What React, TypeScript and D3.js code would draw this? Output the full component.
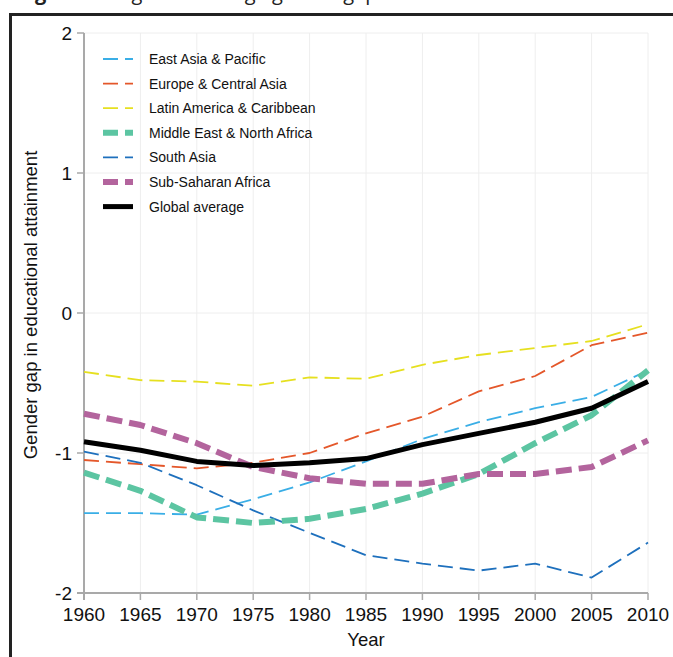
import React from 'react';
import * as d3 from 'd3';

const years = [1960, 1965, 1970, 1975, 1980, 1985, 1990, 1995, 2000, 2005, 2010];
const yTicks = [2, 1, 0, -1, -2];

const regionNames = [
  'East Asia & Pacific',
  'Europe & Central Asia',
  'Latin America & Caribbean',
  'Middle East & North Africa',
  'South Asia',
  'Sub-Saharan Africa',
  'Global average',
];

const eastAsia = [-1.43, -1.43, -1.44, -1.33, -1.21, -1.06, -0.9, -0.78, -0.68, -0.6, -0.41];
const europe = [-1.05, -1.08, -1.11, -1.07, -1.0, -0.86, -0.74, -0.56, -0.45, -0.23, -0.14];
const latinAmerica = [-0.42, -0.48, -0.49, -0.52, -0.46, -0.47, -0.37, -0.3, -0.25, -0.2, -0.08];
const mena = [-1.14, -1.27, -1.46, -1.5, -1.47, -1.4, -1.29, -1.15, -0.93, -0.73, -0.41];
const southAsia = [-0.99, -1.07, -1.23, -1.41, -1.57, -1.73, -1.79, -1.84, -1.79, -1.89, -1.64];
const subSaharan = [-0.72, -0.8, -0.93, -1.1, -1.18, -1.22, -1.22, -1.15, -1.15, -1.1, -0.91];
const globalAvg = [-0.92, -0.98, -1.06, -1.09, -1.07, -1.04, -0.94, -0.86, -0.78, -0.68, -0.49];

const seriesValues = [eastAsia, europe, latinAmerica, mena, southAsia, subSaharan, globalAvg];

// stroke style per series: colour, width, dash
const styles = [
  { color: '#3aaee6', width: 1.8, dash: '15,7' },
  { color: '#e4572a', width: 1.8, dash: '15,7' },
  { color: '#e6e020', width: 1.8, dash: '15,7' },
  { color: '#5cc5a2', width: 6, dash: '16,7' },
  { color: '#1e70bd', width: 1.8, dash: '15,7' },
  { color: '#b3649d', width: 6, dash: '16,7' },
  { color: '#000000', width: 5, dash: null as string | null },
];

const W = 673;
const H = 657;
const margin = { top: 33, right: 25, bottom: 64, left: 84 };

export default function App() {
  const x = d3.scaleLinear().domain([1960, 2010]).range([margin.left, W - margin.right]);
  const y = d3.scaleLinear().domain([-2, 2]).range([H - margin.bottom, margin.top]);

  const line = d3
    .line<number>()
    .x((_, i) => x(years[i]))
    .y((d) => y(d));

  const font = '"Liberation Sans", Arial, Helvetica, sans-serif';
  const axisColor = '#a9a9a9';
  const gridColor = '#eeeeee';
  const y0 = y(-2);
  const x0 = x(1960);

  // draw order: thin lines first, then thick, black on top
  const order = [2, 1, 0, 4, 3, 5, 6];

  return (
    <svg
      width={W}
      height={H}
      style={{ position: 'absolute', left: 0, top: 0, background: '#fff' }}
      fontFamily={font}
    >
      {/* caption, mostly cut off above the frame */}
      <text x={18} y={0.3} fontFamily='"Open Sans", sans-serif' fontSize={20} fill="#222">
        <tspan fontWeight="bold">Figure 3:</tspan> Regional average gender gap in educational attainment
      </text>
      {/* frame */}
      <rect x={10.5} y={14.5} width={W + 20} height={H + 20} fill="none" stroke="#222" strokeWidth={3} />

      {/* grid */}
      {years.map((yr) => (
        <line key={'gx' + yr} x1={x(yr)} x2={x(yr)} y1={y(2)} y2={y0} stroke={gridColor} strokeWidth={1} />
      ))}
      {yTicks.map((t) => (
        <line key={'gy' + t} x1={x0} x2={x(2010)} y1={y(t)} y2={y(t)} stroke={gridColor} strokeWidth={1} />
      ))}

      {/* axes */}
      <line x1={x0} x2={x0} y1={y(2)} y2={y0 + 7} stroke={axisColor} strokeWidth={2} />
      <line x1={x0 - 7} x2={x(2010)} y1={y0} y2={y0} stroke={axisColor} strokeWidth={2} />
      {yTicks.map((t) => (
        <g key={'ty' + t}>
          <line x1={x0 - 7} x2={x0} y1={y(t)} y2={y(t)} stroke={axisColor} strokeWidth={1.5} />
          <text x={x0 - 12} y={y(t)} dy="0.36em" textAnchor="end" fontSize={19} fill="#111">
            {t}
          </text>
        </g>
      ))}
      {years.map((yr) => (
        <g key={'tx' + yr}>
          <line x1={x(yr)} x2={x(yr)} y1={y0} y2={y0 + 7} stroke={axisColor} strokeWidth={1.5} />
          <text x={x(yr)} y={621} textAnchor="middle" fontSize={19} fill="#111">
            {yr}
          </text>
        </g>
      ))}
      <text x={(x0 + x(2010)) / 2} y={646} textAnchor="middle" fontSize={18.5} fill="#111">
        Year
      </text>
      <text
        transform={`translate(37, ${(y(2) + y0) / 2 - 8}) rotate(-90)`}
        textAnchor="middle"
        fontSize={18.5}
        fill="#111"
      >
        Gender gap in educational attainment
      </text>

      {/* series */}
      {order.map((i) => (
        <path
          key={'s' + i}
          d={line(seriesValues[i]) || ''}
          fill="none"
          stroke={styles[i].color}
          strokeWidth={styles[i].width}
          strokeDasharray={styles[i].dash || undefined}
          strokeLinejoin="round"
        />
      ))}

      {/* legend */}
      <g transform="translate(103, 59)">
        {regionNames.map((name, i) => (
          <g key={'lg' + i} transform={`translate(0, ${i * 24.6})`}>
            <line
              x1={0}
              x2={30}
              y1={0}
              y2={0}
              stroke={styles[i].color}
              strokeWidth={styles[i].width}
              strokeDasharray={styles[i].dash ? '15,7' : undefined}
            />
            <text x={46} y={0} dy="0.35em" fontSize={14} fill="#111">
              {name}
            </text>
          </g>
        ))}
      </g>
    </svg>
  );
}
